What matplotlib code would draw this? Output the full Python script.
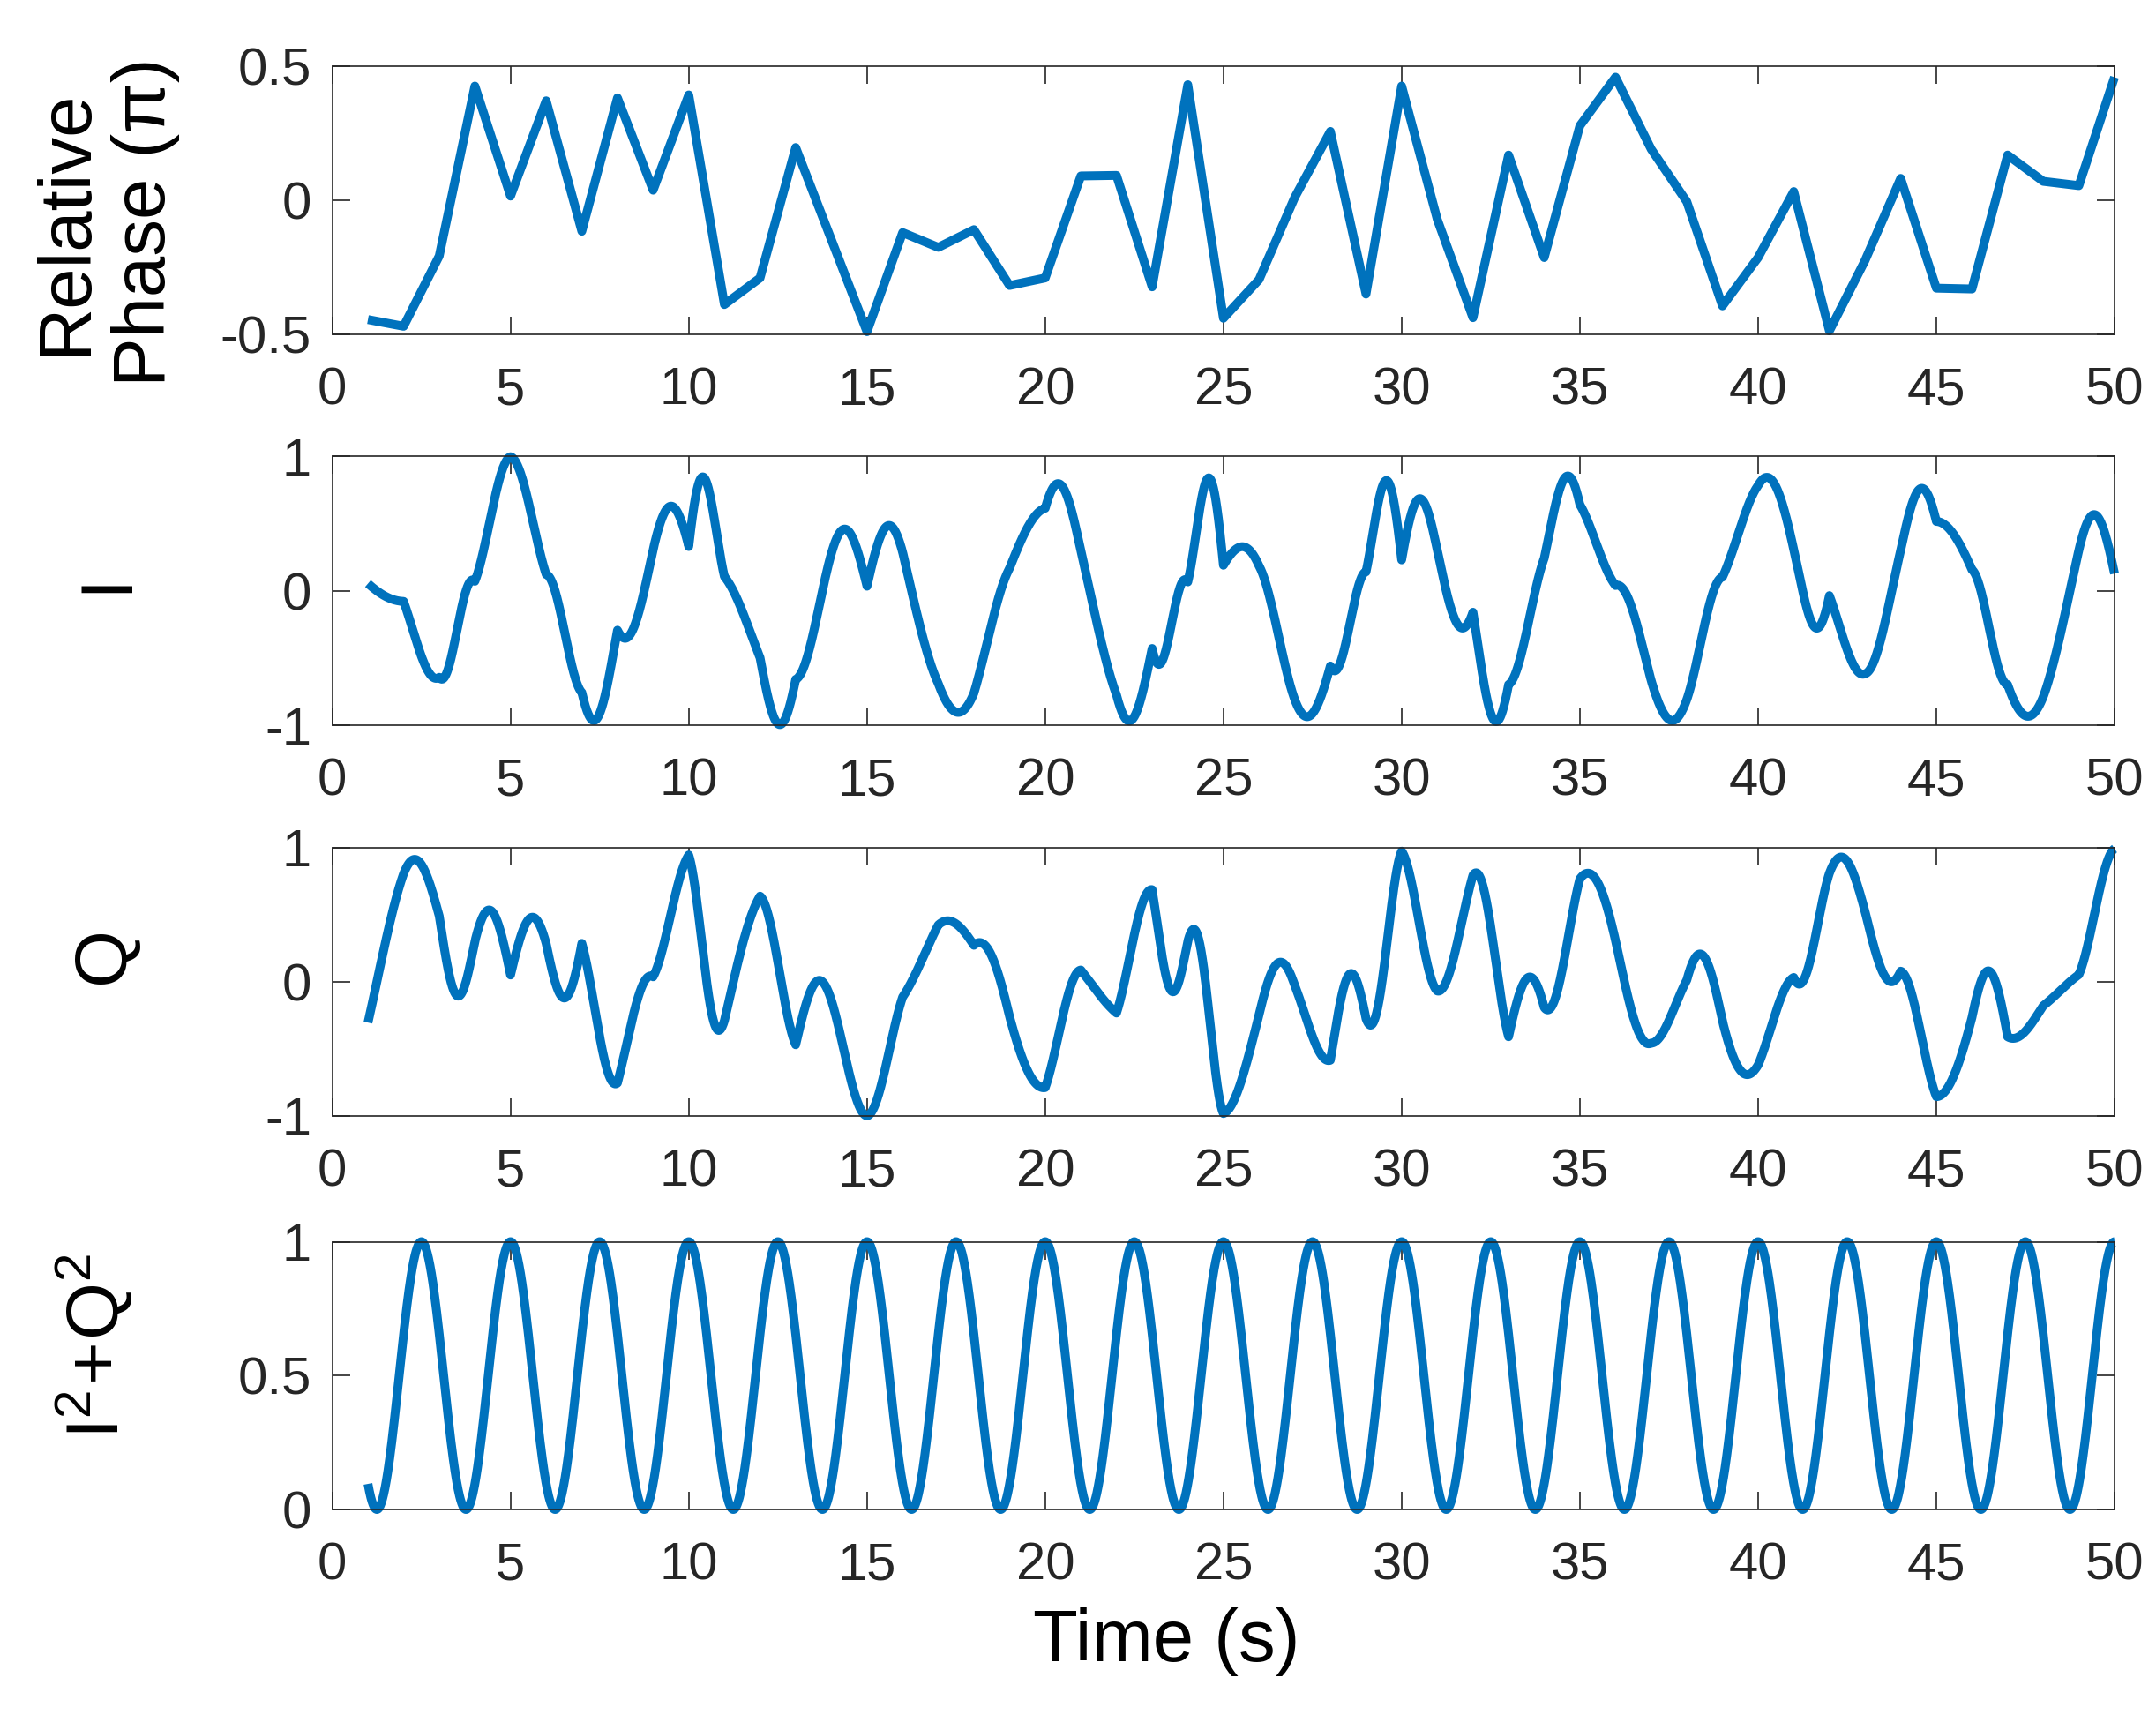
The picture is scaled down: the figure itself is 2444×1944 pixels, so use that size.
#!/usr/bin/env python3
"""
plot.py -- relative phase (sampled once a second) and the I / Q quadrature
signals it produces on a 0.2 Hz carrier, plus the envelope I^2+Q^2.
MATLAB-like styling: boxed axes, inward ticks on all sides.
Out: out.png
"""
import numpy as np
import matplotlib
matplotlib.use("Agg")
import matplotlib.pyplot as plt

matplotlib.rcParams.update({
    "font.family": ["Liberation Sans", "DejaVu Sans"],
    "mathtext.fontset": "custom", "mathtext.rm": "Liberation Sans",
    "axes.unicode_minus": False,
})

BLUE = "#0072BD"
DARK = "#262626"

# ---- data ----
T_SAMPLE = np.arange(1, 51)                       # s
PHASE = [-0.444, -0.469, -0.207, 0.426, 0.016, 0.371, -0.115, 0.382, 0.038, 0.393,
         -0.388, -0.289, 0.197, -0.146, -0.489, -0.120, -0.175, -0.109, -0.317, -0.289,
         0.091, 0.093, -0.322, 0.431, -0.439, -0.295, 0.011, 0.257, -0.349, 0.426,
         -0.071, -0.437, 0.169, -0.213, 0.278, 0.459, 0.191, -0.005, -0.393, -0.213,
         0.033, -0.486, -0.224, 0.082, -0.327, -0.330, 0.169, 0.071, 0.055, 0.459]  # in units of pi
CARRIER_PERIOD = 5.0                              # s, envelope I^2+Q^2 repeats every 2.5 s
X_TICKS = list(range(0, 51, 5))
PHASE_TICKS, PHASE_TICKLABELS = [-0.5, 0, 0.5], ["-0.5", "0", "0.5"]
IQ_TICKS, IQ_TICKLABELS = [-1, 0, 1], ["-1", "0", "1"]
ENV_TICKS, ENV_TICKLABELS = [0, 0.5, 1], ["0", "0.5", "1"]

# I/Q follow the phase as drawn (straight segments between the samples)
t = np.linspace(T_SAMPLE[0], T_SAMPLE[-1], 4901)
phi = np.pi * np.interp(t, T_SAMPLE, PHASE)
amp = np.cos(2 * np.pi * t / CARRIER_PERIOD)
I = amp * np.cos(phi)
Q = amp * np.sin(phi)
ENV = I ** 2 + Q ** 2

# ---- layout (figure fractions, measured on the 2444x1944 reference) ----
W, H = 2444, 1944
L, R = 376.7 / W, 2397 / W
ROWS = [(75, 379.3), (517.5, 822), (960.7, 1265), (1407.5, 1711)]   # top, bottom px

fig = plt.figure(figsize=(W / 100, H / 100), dpi=100)
axes = [fig.add_axes([L, 1 - b / H, R - L, (b - tp) / H]) for tp, b in ROWS]

series = [(T_SAMPLE, PHASE), (t, I), (t, Q), (t, ENV)]
ylims = [(-0.5, 0.5), (-1, 1), (-1, 1), (0, 1)]
yticks = [(PHASE_TICKS, PHASE_TICKLABELS), (IQ_TICKS, IQ_TICKLABELS),
          (IQ_TICKS, IQ_TICKLABELS), (ENV_TICKS, ENV_TICKLABELS)]
ylabels = ["Relative\nPhase (\u03c0)", "I", "Q", r"$\mathregular{I^2\!+\!Q^2}$"]
label_xy = [(-0.127, 0.418), (-0.1265, 0.53), (-0.128, 0.60), (-0.1335, 0.61)]

for ax, (x, y), yl, (tk, tl), lab, (lx, ly) in zip(axes, series, ylims, yticks, ylabels, label_xy):
    ax.plot(x, y, color=BLUE, lw=7.2, clip_on=False,
            solid_capstyle="butt", solid_joinstyle="round")
    ax.set_xlim(0, 50); ax.set_ylim(*yl)
    ax.set_xticks(X_TICKS)
    ax.set_yticks(tk, labels=tl)
    ax.tick_params(direction="in", length=14.6, width=1.2, top=True, right=True,
                   labelsize=43, pad=17, color=DARK, labelcolor=DARK)
    ax.tick_params(axis="x", pad=26)
    for s in ax.spines.values():
        s.set_linewidth(1.2); s.set_color(DARK)
    ax.set_ylabel(lab, fontsize=60, color="black", ha="center", va="center",
                  linespacing=1.2)
    ax.yaxis.set_label_coords(lx, ly)

axes[-1].set_xlabel("Time (s)", fontsize=60, color="black", va="baseline")
axes[-1].xaxis.set_label_coords(0.468, -0.567)

fig.savefig("out.png", dpi=100)
plt.close(fig)
